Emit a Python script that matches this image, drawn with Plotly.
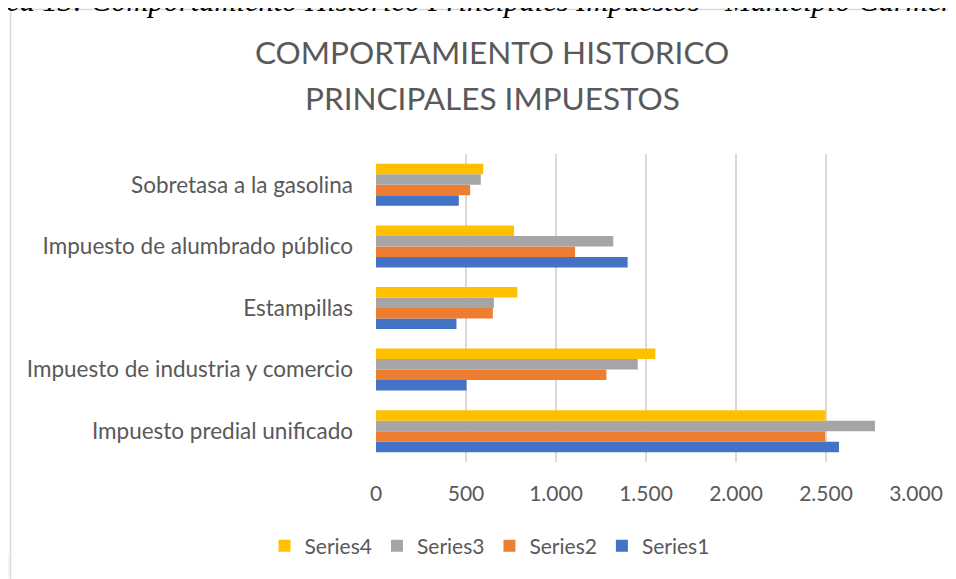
import plotly.graph_objects as go

categories = [
    "Impuesto predial unificado",
    "Impuesto de industria y comercio",
    "Estampillas",
    "Impuesto de alumbrado público",
    "Sobretasa a la gasolina",
]
series1 = [2572, 503, 447, 1398, 460]
series2 = [2495, 1280, 649, 1106, 523]
series3 = [2772, 1454, 655, 1318, 582]
series4 = [2497, 1552, 785, 767, 596]
series_names = ["Series1", "Series2", "Series3", "Series4"]
colors = ["#4472C4", "#ED7D31", "#A5A5A5", "#FFC000"]
x_ticks = [0, 500, 1000, 1500, 2000, 2500, 3000]

# page has an 8px body margin, so the figure is 8px smaller and positions are shifted
OFF = 8
W, H = 956 - OFF, 579 - OFF
L, PR, T, PB = 376 - OFF, 916 - OFF, 154 - OFF, 462 - OFF
R, B = W - PR, H - PB
pw, ph = PR - L, PB - T

def px_x(p):
    return (p - OFF - L) / pw

def px_y(p):
    return (PB - (p - OFF)) / ph

fig = go.Figure()
for name, vals, c in zip(series_names, [series1, series2, series3, series4], colors):
    fig.add_trace(go.Bar(y=categories, x=vals, name=name, orientation="h",
                         marker=dict(color=c, line=dict(width=0))))

font_family = "Lato, 'Open Sans', sans-serif"
grey = "#595959"
fig.update_layout(
    width=W, height=H,
    margin=dict(l=L, r=R, t=T, b=B),
    paper_bgcolor="white", plot_bgcolor="white",
    barmode="group", bargap=0.318, bargroupgap=0,
    separators=",.",
    font=dict(family=font_family, color=grey, size=22),
    xaxis=dict(range=[0, 3000], tickvals=x_ticks, tickformat=",d",
               showgrid=True, gridcolor="#D9D9D9", gridwidth=1.5,
               zeroline=False, showline=False, ticks="",
               ticklabelstandoff=17, tickfont=dict(size=21, color=grey)),
    yaxis=dict(type="category", categoryorder="array", categoryarray=categories,
               showgrid=False, zeroline=False, showline=False, ticks="",
               ticklabelstandoff=22, tickfont=dict(size=22.5, color=grey)),
    legend=dict(orientation="h", traceorder="reversed",
                xref="container", yref="container",
                x=(489.5 - OFF) / W, xanchor="center",
                y=1 - (546 - OFF) / H, yanchor="middle",
                font=dict(size=21, color=grey), itemwidth=30),
    showlegend=True,
)

# title (two lines)
for txt, yp in [("COMPORTAMIENTO HISTORICO", 52), ("PRINCIPALES IMPUESTOS", 98)]:
    fig.add_annotation(text=txt, xref="paper", yref="paper",
                       x=px_x(492), xanchor="center", y=px_y(yp), yanchor="middle",
                       showarrow=False, font=dict(family=font_family, size=31.5, color=grey))

# faint watermark shapes at the left edge
fig.add_shape(type="circle", xref="paper", yref="paper",
              x0=px_x(-40), x1=px_x(8), y0=px_y(428), y1=px_y(382),
              line=dict(width=0), fillcolor="#F3F3F3", layer="below")
fig.add_shape(type="circle", xref="paper", yref="paper",
              x0=px_x(-60), x1=px_x(10), y0=px_y(610), y1=px_y(523),
              line=dict(width=0), fillcolor="#F3F3F3", layer="below")

# chart border
fig.add_shape(type="rect", xref="paper", yref="paper",
              x0=px_x(10.5), x1=px_x(990), y0=px_y(620), y1=px_y(9.5),
              line=dict(color="#D9D9D9", width=1.5), fillcolor="rgba(0,0,0,0)",
              layer="below")

# partially visible caption above the chart
fig.add_annotation(text="<i>Gráfica 13: Comportamiento Historico Principales Impuestos - Municipio Carmen de Viboral</i>",
                   xref="paper", yref="paper", x=px_x(-62), xanchor="left",
                   y=px_y(0.5), yanchor="middle", showarrow=False,
                   font=dict(family="Liberation Serif, serif", size=30.5, color="black"))

fig.write_html("out.html")
